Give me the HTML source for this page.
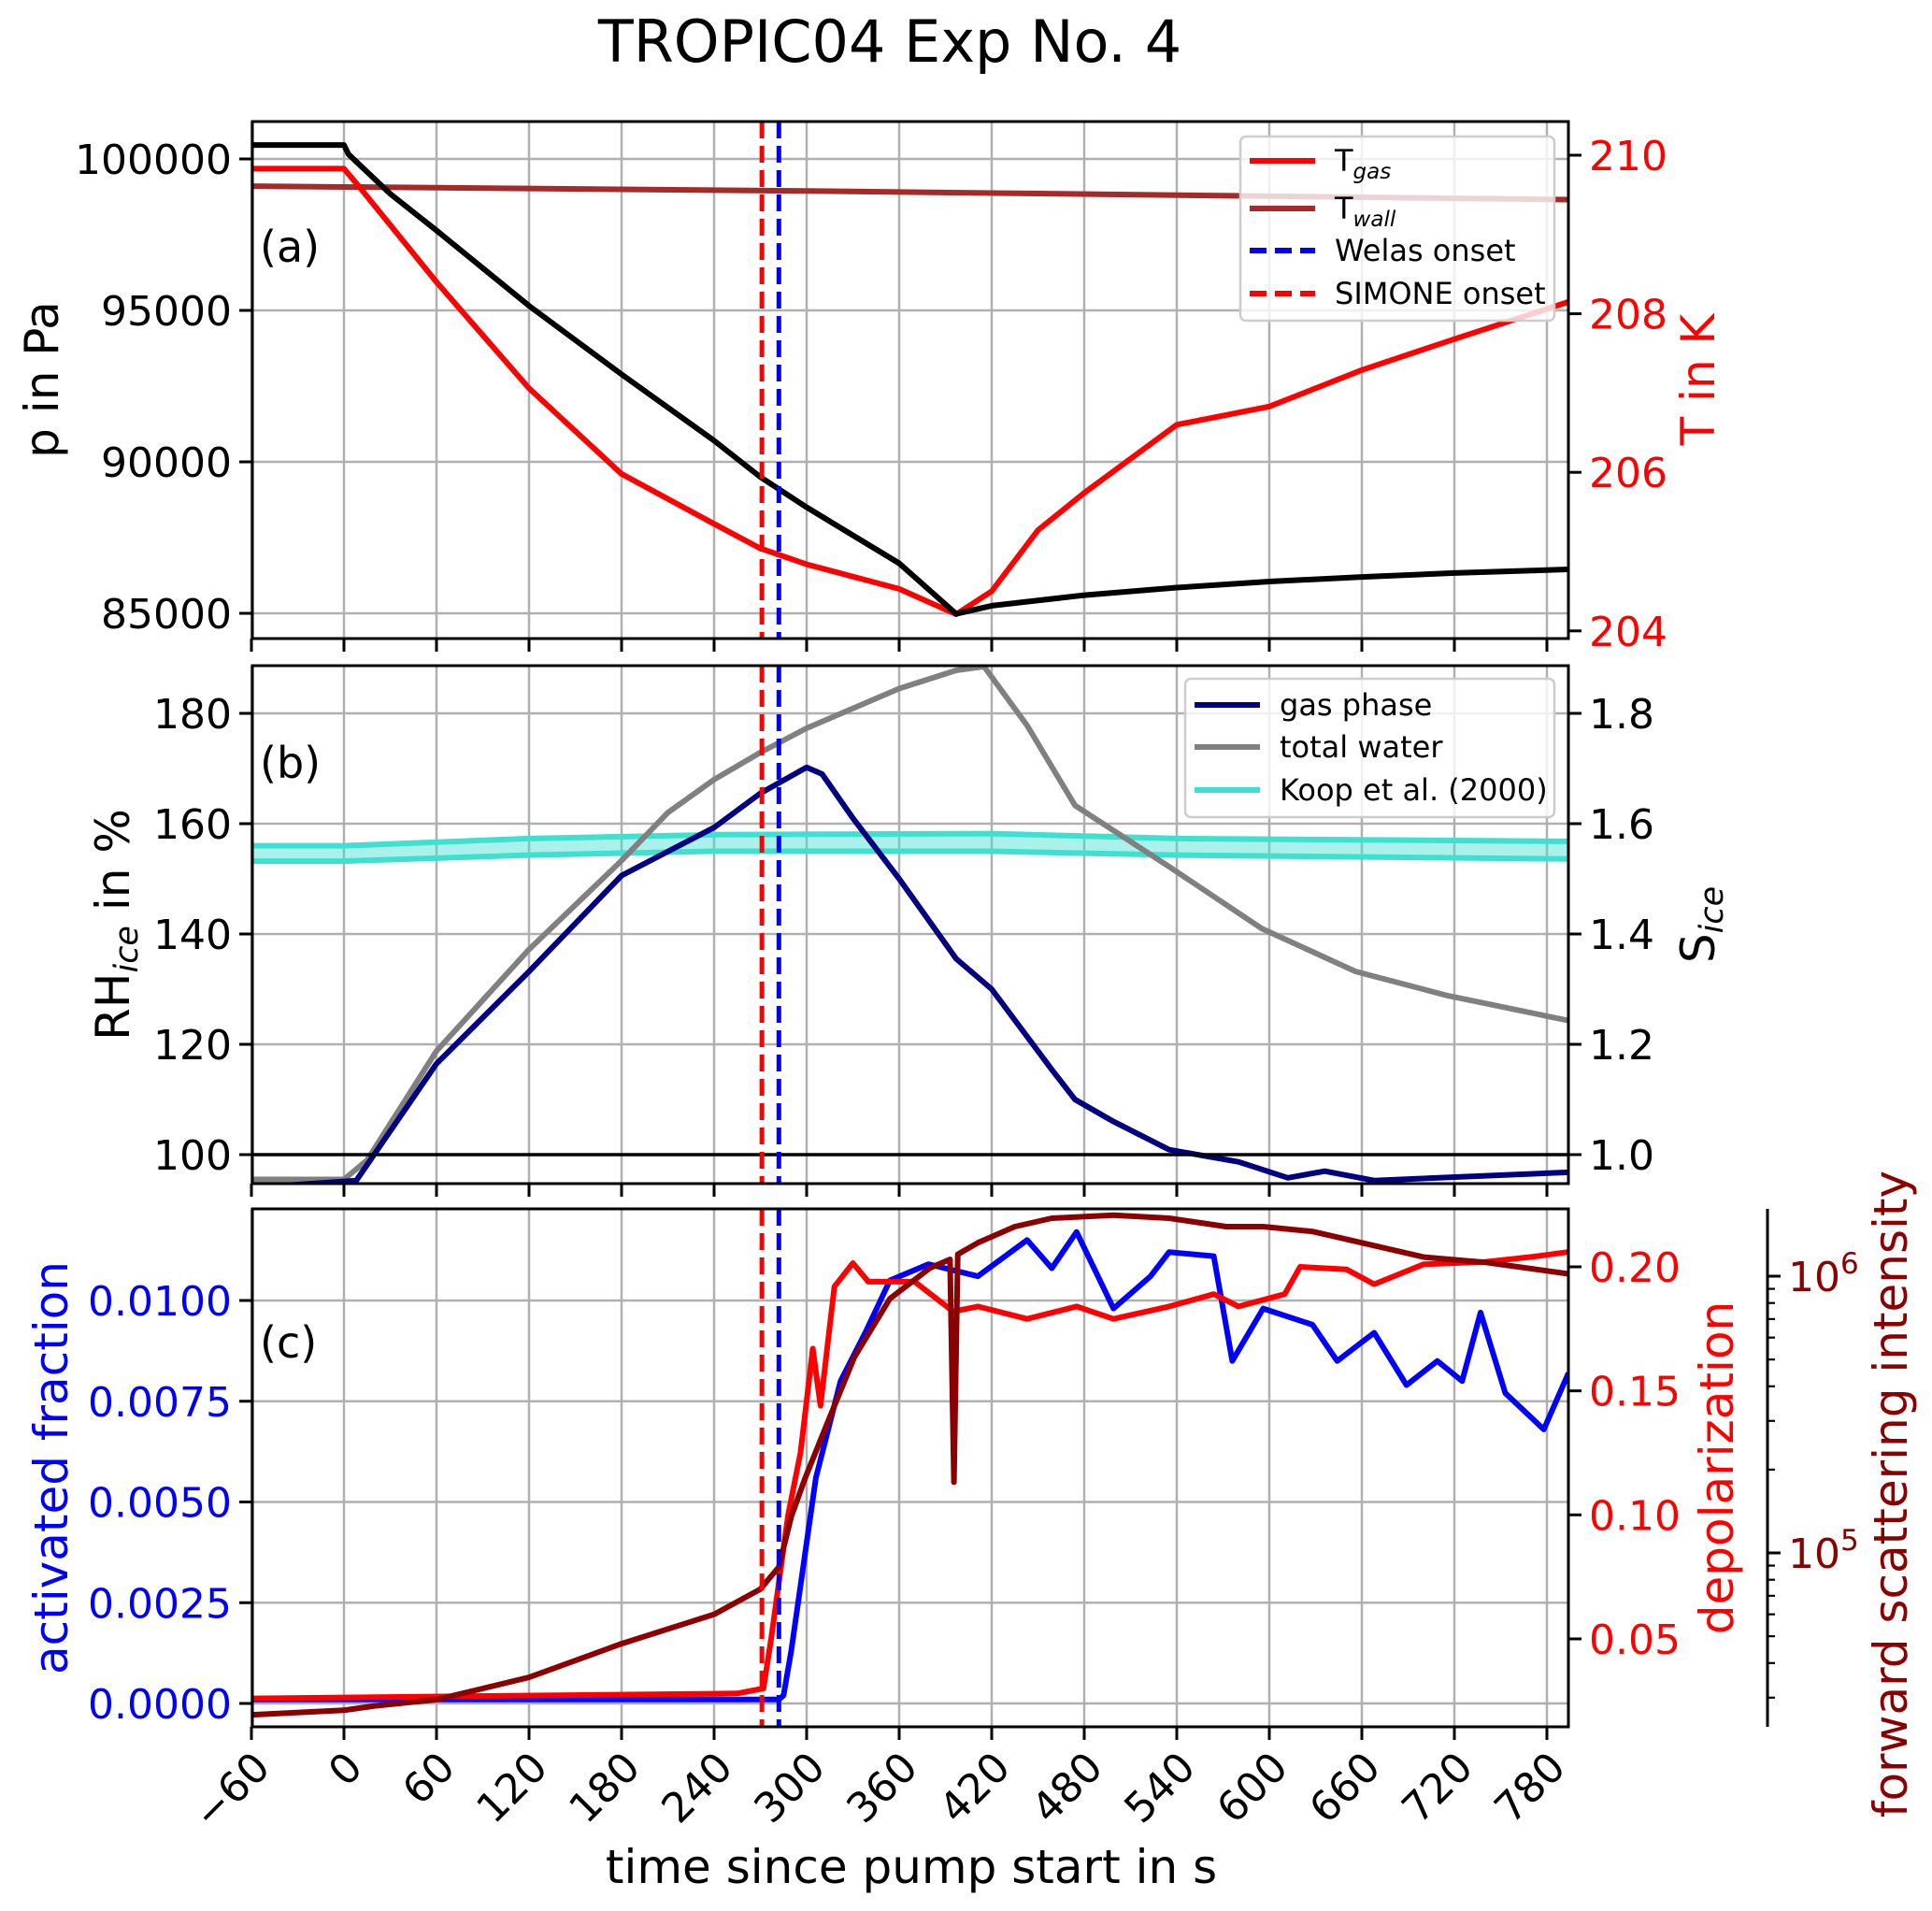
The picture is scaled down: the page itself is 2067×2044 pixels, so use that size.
<!DOCTYPE html>
<html><head><meta charset="utf-8"><style>
html,body{margin:0;padding:0;background:#fff}
svg{display:block;font-family:"DejaVu Sans","Liberation Sans",sans-serif}
</style></head><body>
<svg id="chart" width="2067" height="2044" viewBox="0 0 2067 2044" xmlns="http://www.w3.org/2000/svg">
<defs>
<clipPath id="clipA"><rect x="270" y="130" width="1408" height="553"/></clipPath>
<clipPath id="clipB"><rect x="270" y="712" width="1408" height="554"/></clipPath>
<clipPath id="clipC"><rect x="270" y="1293" width="1408" height="554"/></clipPath>
</defs>
<text x="952" y="66" font-size="62" text-anchor="middle">TROPIC04 Exp No. 4</text>
<g id="layer"></g>
</svg>
<script>
// ---------- data ----------
const xTicks=[-60,0,60,120,180,240,300,360,420,480,540,600,660,720,780];
const pTicks=[100000,95000,90000,85000];
const tempTicks=[210,208,206,204];
const rhTicks=[100,120,140,160,180];
const sTicks=[1.0,1.2,1.4,1.6,1.8];
const afTicks=[0,0.0025,0.005,0.0075,0.01];
const depTicks=[0.05,0.10,0.15,0.20];
const fsMajor=[1e5,1e6];

const pTime=[-60,0,3,30,60,120,180,240,270,300,360,397,420,480,540,600,660,720,794];
const pVals=[100460,100460,100150,98850,97640,95150,92890,90700,89500,88500,86650,84980,85250,85600,85850,86050,86200,86330,86450];
const tgTime=[-60,0,10,60,120,180,240,270,300,360,397,420,450,480,540,600,660,720,794];
const tgVals=[209.83,209.83,209.6,208.4,207.06,205.98,205.35,205.04,204.84,204.53,204.21,204.5,205.27,205.74,206.6,206.83,207.29,207.68,208.15];
const twTime=[-60,300,794];
const twVals=[209.61,209.55,209.44];

const gasTime=[-60,8,60,120,180,240,270,300,310,330,360,397,420,459,474,499,535,580,612,636,668,794];
const gasVals=[94,95.3,116.5,133.2,150.6,159.3,165.5,170.2,169,161,150,135.5,130,115.4,110,106,100.9,98.7,95.8,97,95.3,96.8];
const totTime=[-60,0,15,60,120,180,210,240,270,300,360,397,415,443,474,535,595,656,716,794];
const totVals=[95.5,95.5,99,118.8,137.2,153.3,162,168,172.9,177.3,184.5,187.8,188.5,177.8,163.3,152.2,141,133.2,128.8,124.3];
const koopTime=[-60,0,120,240,420,540,794];
const koopUpper=[156,156,157.3,158,158.2,157.3,156.8];
const koopLower=[153.2,153.2,154.3,155,155,154.3,153.6];

const afTime=[-60,282,285,290,306,322,338,354,379,411,443,459,475,499,523,535,564,576,596,628,644,668,689,709,725,737,753,778,794];
const afVals=[0.0001,0.0001,0.0002,0.0013,0.0056,0.008,0.0092,0.0105,0.0109,0.0106,0.0115,0.0108,0.0117,0.0098,0.0106,0.0112,0.0111,0.0085,0.0098,0.0094,0.0085,0.0092,0.0079,0.0085,0.0080,0.0097,0.0077,0.0068,0.0082];
const depTime=[-60,255,272,277,288,296,304,309,318,330,340,370,395,411,443,475,499,535,564,580,610,620,650,668,700,740,770,794];
const depVals=[0.026,0.028,0.030,0.050,0.100,0.125,0.167,0.144,0.192,0.2015,0.194,0.194,0.182,0.184,0.179,0.184,0.179,0.184,0.189,0.184,0.189,0.2,0.199,0.193,0.201,0.202,0.204,0.206];
const fsTime=[-60,0,20,60,120,180,240,270,282,290,299,315,331,354,380,393,395.5,398,411,435,459,499,535,572,596,628,660,701,741,794];
const fsVals=[2.6e4,2.7e4,2.8e4,2.95e4,3.55e4,4.7e4,6.0e4,7.4e4,8.9e4,1.35e5,1.86e5,3.1e5,5.1e5,8.3e5,1.07e6,1.15e6,1.8e5,1.2e6,1.32e6,1.51e6,1.62e6,1.66e6,1.62e6,1.51e6,1.51e6,1.45e6,1.32e6,1.17e6,1.12e6,1.02e6];
const onsetSimone=271;
const onsetWelas=282;

// ---------- scales ----------
const X=t=>368+t*1.65;
const PY=p=>170+(100000-p)*162/5000;
const TY=T=>166+(210-T)*84.8;
const RY=r=>763+(180-r)*5.9;
const AY=a=>1822-a*43100;
const DY=d=>1355+(0.2-d)*2653;
const LY=v=>1365+(6-Math.log10(v))*296;

const NS="http://www.w3.org/2000/svg";
const layer=document.getElementById('layer');
function mk(tag,attrs,parent){const e=document.createElementNS(NS,tag);for(const k in attrs)e.setAttribute(k,attrs[k]);(parent||layer).appendChild(e);return e;}
function pathD(ts,vs,fy){return ts.map((t,i)=>(i?'L':'M')+X(t).toFixed(1)+','+fy(vs[i]).toFixed(1)).join('');}

const panels=[{top:130,bot:683,clip:'clipA'},{top:712,bot:1266,clip:'clipB'},{top:1293,bot:1847,clip:'clipC'}];
const L=270,R=1678;
const TF=44;

// grids
panels.forEach((pn,pi)=>{
  xTicks.forEach(t=>{
    const g=mk('line',{x1:X(t),x2:X(t),y1:pn.top,y2:pn.bot,stroke:'#b0b0b0','stroke-width':2.5});
    
    
  });
});
pTicks.forEach(v=>{const g=mk('line',{x1:L,x2:R,y1:PY(v),y2:PY(v),stroke:'#b0b0b0','stroke-width':2.5});
  
  });
rhTicks.forEach(v=>{const g=mk('line',{x1:L,x2:R,y1:RY(v),y2:RY(v),stroke:'#b0b0b0','stroke-width':2.5});
  
  });
afTicks.forEach(v=>{const g=mk('line',{x1:L,x2:R,y1:AY(v),y2:AY(v),stroke:'#b0b0b0','stroke-width':2.5});
  
  });

function series(ts,vs,fy,color,clip,name,w){
  const e=mk('path',{d:pathD(ts,vs,fy),fill:'none',stroke:color,'stroke-width':w||6,'stroke-linejoin':'round','clip-path':'url(#'+clip+')'});
  
  
  return e;
}
// panel a
series(twTime,twVals,TY,'#a52a2a','clipA','t-wall-line');
series(tgTime,tgVals,TY,'#ff0000','clipA','t-gas-line');
series(pTime,pVals,PY,'#000000','clipA','pressure-line');
// panel b
const koopD=pathD(koopTime,koopUpper,RY)+koopTime.slice().reverse().map((t,i)=>'L'+X(t).toFixed(1)+','+RY(koopLower[koopLower.length-1-i]).toFixed(1)).join('')+'Z';
const kf=mk('path',{d:koopD,fill:'#40e0d0','fill-opacity':0.45,stroke:'none','clip-path':'url(#clipB)'});


series(koopTime,koopUpper,RY,'#40e0d0','clipB','koop-upper-line');
series(koopTime,koopLower,RY,'#40e0d0','clipB','koop-lower-line');
series(totTime,totVals,RY,'#808080','clipB','total-water-line');
series(gasTime,gasVals,RY,'#000080','clipB','gas-phase-line');
const hl=mk('line',{x1:L,x2:R,y1:RY(100),y2:RY(100),stroke:'#000','stroke-width':3.5});


// panel c
series(afTime,afVals,AY,'#0000ff','clipC','activated-fraction-line');
series(depTime,depVals,DY,'#ff0000','clipC','depolarization-line');
series(fsTime,fsVals,LY,'#8b0000','clipC','forward-scattering-line');

// onset lines
[[onsetSimone,'#ff0000','simone-onset-line'],[onsetWelas,'#0000ff','welas-onset-line']].forEach(o=>{
  panels.forEach(pn=>{
    const e=mk('line',{x1:X(o[0]),x2:X(o[0]),y1:pn.top,y2:pn.bot,stroke:o[1],'stroke-width':5,'stroke-dasharray':'18 8'});
    
    
  });
});

// spines + x ticks
panels.forEach((pn,pi)=>{
  const r=mk('rect',{x:L,y:pn.top,width:R-L,height:pn.bot-pn.top,fill:'none',stroke:'#000','stroke-width':3});
  
  
  xTicks.forEach(t=>{
    const k=mk('line',{x1:X(t),x2:X(t),y1:pn.bot,y2:pn.bot+14,stroke:'#000','stroke-width':3});
    
    
  });
});
xTicks.forEach(t=>{
  const x=X(t)+22,y=1893;
  const tx=mk('text',{x:x,y:y,'font-size':TF,'text-anchor':'end',transform:'rotate(-45 '+x+' '+y+')'});
  tx.textContent=(t<0?'\u2212'+(-t):String(t));
  
  
});

function yTicks(vals,fy,side,fmt,color,name){
  vals.forEach(v=>{
    const y=fy(v);
    const x0=side==='l'?L:R;
    const k=mk('line',{x1:x0,x2:side==='l'?x0-14:x0+14,y1:y,y2:y,stroke:'#000','stroke-width':3});
    
    
    const t=mk('text',{x:side==='l'?L-22:R+22,y:y+16,'font-size':TF,fill:color,'text-anchor':side==='l'?'end':'start'});
    t.textContent=fmt(v);
    
    
  });
}
yTicks(pTicks,PY,'l',v=>String(v),'#000','pressure');
yTicks(tempTicks,TY,'r',v=>String(v),'#ff0000','temperature');
yTicks(rhTicks,RY,'l',v=>String(v),'#000','rh-ice');
yTicks(sTicks,v=>RY(v*100),'r',v=>v.toFixed(1),'#000','s-ice');
yTicks(afTicks,AY,'l',v=>v.toFixed(4),'#0000ff','activated-fraction');
yTicks(depTicks,DY,'r',v=>v.toFixed(2),'#ff0000','depolarization');

// third axis (log)
const SX=1891;
const sp=mk('line',{x1:SX,x2:SX,y1:1293,y2:1847,stroke:'#000','stroke-width':3});


for(let d=4;d<=6;d++){for(let m=1;m<=9;m++){const v=m*Math.pow(10,d);const y=LY(v);if(y<1293||y>1847)continue;
  const k=mk('line',{x1:SX,x2:SX+(m===1?14:8),y1:y,y2:y,stroke:'#000','stroke-width':m===1?3:2.2});
  
  }}
fsMajor.forEach(v=>{
  const t=mk('text',{x:SX+22,y:LY(v)+16,'font-size':TF,fill:'#8b0000'});
  t.innerHTML='10<tspan dy="-19" font-size="31">'+Math.round(Math.log10(v))+'</tspan>';
  
  
});

// axis labels
function vlabel(x,y,html,color,name){
  const t=mk('text',{x:x,y:y,'font-size':50,fill:color,'text-anchor':'middle',transform:'rotate(-90 '+x+' '+y+')'});
  t.innerHTML=html;
  
  
}
vlabel(62,406,'p in Pa','#000','pressure-axis-title');
vlabel(1834,406,'T in K','#ff0000','temperature-axis-title');
vlabel(138,989,'RH<tspan font-size="35" font-style="italic" dy="9">ice</tspan><tspan dy="-9"> in %</tspan>','#000','rh-axis-title');
vlabel(1834,989,'S<tspan font-size="35" font-style="italic" dy="9">ice</tspan>','#000','s-ice-axis-title');
vlabel(72,1570,'activated fraction','#0000ff','activated-fraction-axis-title');
vlabel(1854,1570,'depolarization','#ff0000','depolarization-axis-title');
vlabel(2040,1598,'forward scattering intensity','#8b0000','forward-scattering-axis-title');
const xl=mk('text',{x:975,y:2014,'font-size':50,'text-anchor':'middle'});
xl.textContent='time since pump start in s';



[['(a)',278,280],['(b)',278,832],['(c)',278,1452]].forEach(p=>{
  const t=mk('text',{x:p[1],y:p[2],'font-size':46});
  t.textContent=p[0];
  
  
});

// legends
function legend(box,items,name){
  const g=mk('g',{});
  
  
  const r=mk('rect',{x:box[0],y:box[1],width:box[2],height:box[3],rx:6,fill:'#fff','fill-opacity':0.8,stroke:'#cccccc','stroke-width':2.5},g);
  
  
  items.forEach(it=>{
    const ln=mk('line',{x1:box[0]+10,x2:box[0]+80,y1:it.y,y2:it.y,stroke:it.c,'stroke-width':6,'stroke-dasharray':it.dash?'18 9':'none'},g);
    
    
    const t=mk('text',{x:box[0]+101,y:it.y+11,'font-size':32},g);
    t.innerHTML=it.t;
    
    
  });
}
legend([1327,146,336,197],[
 {y:172,c:'#ff0000',t:'T<tspan font-size="23" font-style="italic" dy="8">gas</tspan>'},
 {y:223,c:'#a52a2a',t:'T<tspan font-size="23" font-style="italic" dy="8">wall</tspan>'},
 {y:268,c:'#0000ff',dash:1,t:'Welas onset'},
 {y:314,c:'#ff0000',dash:1,t:'SIMONE onset'}],'legend-a');
legend([1268,726,395,148],[
 {y:754,c:'#000080',t:'gas phase'},
 {y:799,c:'#808080',t:'total water'},
 {y:845,c:'#40e0d0',t:'Koop et al. (2000)'}],'legend-b');
</script>
</body></html>
